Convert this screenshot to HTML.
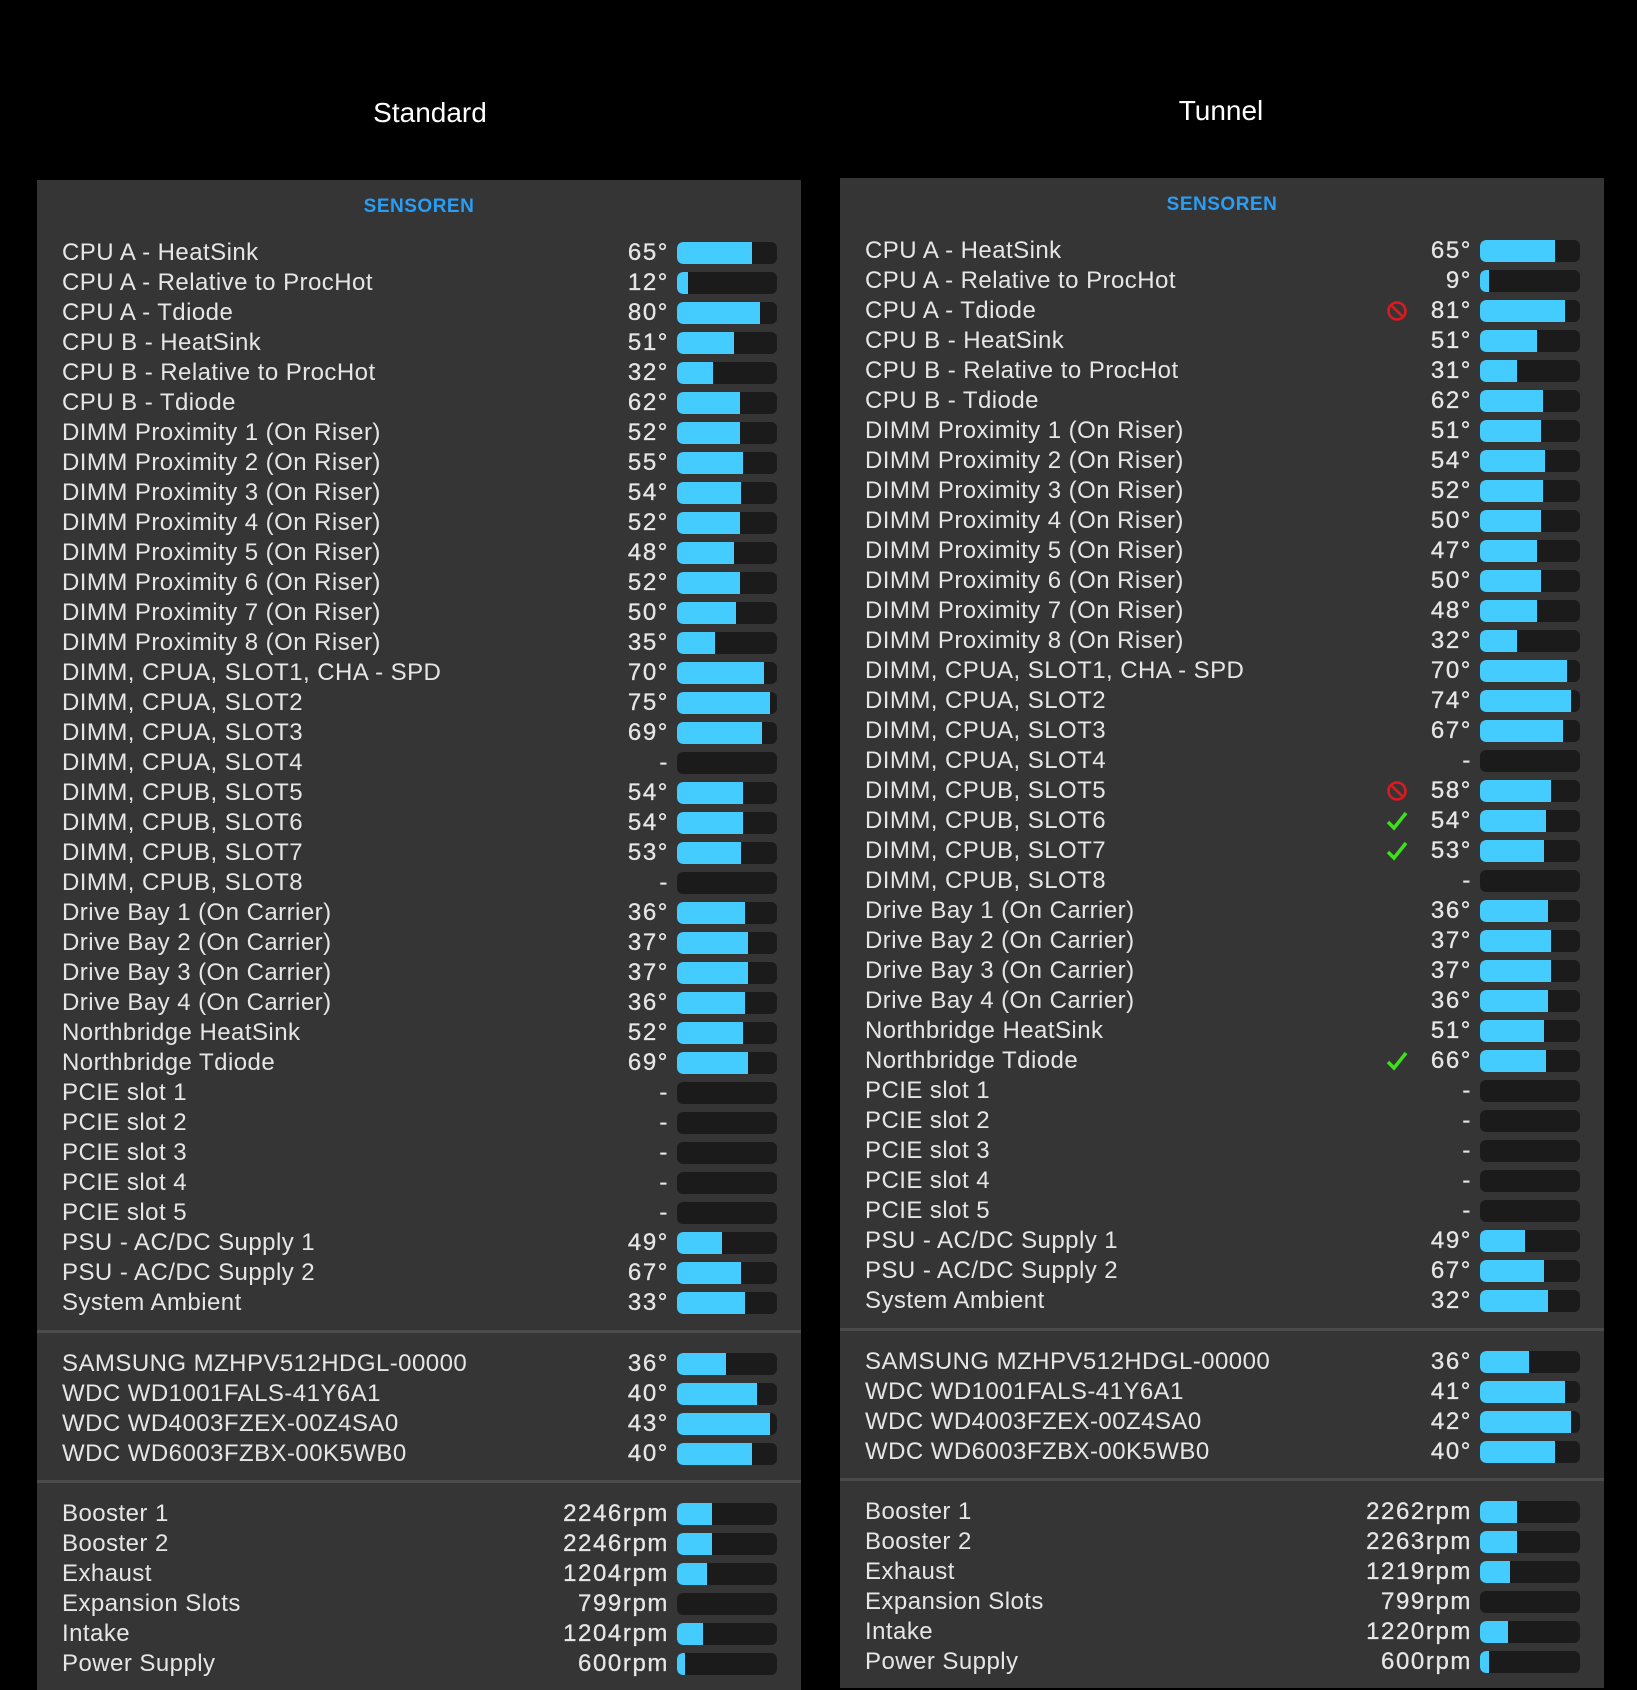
<!DOCTYPE html>
<html><head><meta charset="utf-8"><style>
body{margin:0;width:1637px;height:1690px;background:#000;position:relative;overflow:hidden;font-family:"Liberation Sans",sans-serif;}
.t{position:absolute;top:97px;color:#fff;font-size:28px;width:400px;text-align:center;}
.p{position:absolute;width:764px;height:1510px;background:#353535;}
.h{position:absolute;top:16px;left:0;width:100%;text-align:center;color:#2a9df4;font-weight:bold;font-size:19px;letter-spacing:0.5px}
.r{position:absolute;left:0;width:764px;height:30px;line-height:30px;color:#e6e6e6;font-size:24px;margin-top:2px}
.r .l{position:absolute;left:25px;white-space:nowrap;letter-spacing:0.45px}
.r .v{position:absolute;right:132px;white-space:nowrap;letter-spacing:1.6px;-webkit-text-stroke:0.3px #e6e6e6}
.r .b{position:absolute;left:640px;top:4px;width:100px;height:22px;border-radius:6px;background:#1b1b1b;overflow:hidden}
.r .b i{display:block;height:100%;background:#44ccff;border-radius:6px 0 0 6px}
.s{position:absolute;left:0;width:764px;height:3px;background:#4a4a4a}
.x{position:absolute;left:546px;top:4px;width:22px;height:22px}
</style></head><body>
<div class="t" style="left:230px">Standard</div>
<div class="t" style="left:1021px;top:95px">Tunnel</div>

<div class="p" style="left:37px;top:180px">
<div class="h">SENSOREN</div>
<div class="r" style="top:56px"><span class="l">CPU A - HeatSink</span><span class="v">65°</span><div class="b"><i style="width:75px"></i></div></div>
<div class="r" style="top:86px"><span class="l">CPU A - Relative to ProcHot</span><span class="v">12°</span><div class="b"><i style="width:11px"></i></div></div>
<div class="r" style="top:116px"><span class="l">CPU A - Tdiode</span><span class="v">80°</span><div class="b"><i style="width:83px"></i></div></div>
<div class="r" style="top:146px"><span class="l">CPU B - HeatSink</span><span class="v">51°</span><div class="b"><i style="width:57px"></i></div></div>
<div class="r" style="top:176px"><span class="l">CPU B - Relative to ProcHot</span><span class="v">32°</span><div class="b"><i style="width:36px"></i></div></div>
<div class="r" style="top:206px"><span class="l">CPU B - Tdiode</span><span class="v">62°</span><div class="b"><i style="width:63px"></i></div></div>
<div class="r" style="top:236px"><span class="l">DIMM Proximity 1 (On Riser)</span><span class="v">52°</span><div class="b"><i style="width:63px"></i></div></div>
<div class="r" style="top:266px"><span class="l">DIMM Proximity 2 (On Riser)</span><span class="v">55°</span><div class="b"><i style="width:66px"></i></div></div>
<div class="r" style="top:296px"><span class="l">DIMM Proximity 3 (On Riser)</span><span class="v">54°</span><div class="b"><i style="width:64px"></i></div></div>
<div class="r" style="top:326px"><span class="l">DIMM Proximity 4 (On Riser)</span><span class="v">52°</span><div class="b"><i style="width:63px"></i></div></div>
<div class="r" style="top:356px"><span class="l">DIMM Proximity 5 (On Riser)</span><span class="v">48°</span><div class="b"><i style="width:57px"></i></div></div>
<div class="r" style="top:386px"><span class="l">DIMM Proximity 6 (On Riser)</span><span class="v">52°</span><div class="b"><i style="width:63px"></i></div></div>
<div class="r" style="top:416px"><span class="l">DIMM Proximity 7 (On Riser)</span><span class="v">50°</span><div class="b"><i style="width:59px"></i></div></div>
<div class="r" style="top:446px"><span class="l">DIMM Proximity 8 (On Riser)</span><span class="v">35°</span><div class="b"><i style="width:38px"></i></div></div>
<div class="r" style="top:476px"><span class="l">DIMM, CPUA, SLOT1, CHA - SPD</span><span class="v">70°</span><div class="b"><i style="width:87px"></i></div></div>
<div class="r" style="top:506px"><span class="l">DIMM, CPUA, SLOT2</span><span class="v">75°</span><div class="b"><i style="width:93px"></i></div></div>
<div class="r" style="top:536px"><span class="l">DIMM, CPUA, SLOT3</span><span class="v">69°</span><div class="b"><i style="width:85px"></i></div></div>
<div class="r" style="top:566px"><span class="l">DIMM, CPUA, SLOT4</span><span class="v">-</span><div class="b"></div></div>
<div class="r" style="top:596px"><span class="l">DIMM, CPUB, SLOT5</span><span class="v">54°</span><div class="b"><i style="width:66px"></i></div></div>
<div class="r" style="top:626px"><span class="l">DIMM, CPUB, SLOT6</span><span class="v">54°</span><div class="b"><i style="width:66px"></i></div></div>
<div class="r" style="top:656px"><span class="l">DIMM, CPUB, SLOT7</span><span class="v">53°</span><div class="b"><i style="width:64px"></i></div></div>
<div class="r" style="top:686px"><span class="l">DIMM, CPUB, SLOT8</span><span class="v">-</span><div class="b"></div></div>
<div class="r" style="top:716px"><span class="l">Drive Bay 1 (On Carrier)</span><span class="v">36°</span><div class="b"><i style="width:68px"></i></div></div>
<div class="r" style="top:746px"><span class="l">Drive Bay 2 (On Carrier)</span><span class="v">37°</span><div class="b"><i style="width:71px"></i></div></div>
<div class="r" style="top:776px"><span class="l">Drive Bay 3 (On Carrier)</span><span class="v">37°</span><div class="b"><i style="width:71px"></i></div></div>
<div class="r" style="top:806px"><span class="l">Drive Bay 4 (On Carrier)</span><span class="v">36°</span><div class="b"><i style="width:68px"></i></div></div>
<div class="r" style="top:836px"><span class="l">Northbridge HeatSink</span><span class="v">52°</span><div class="b"><i style="width:66px"></i></div></div>
<div class="r" style="top:866px"><span class="l">Northbridge Tdiode</span><span class="v">69°</span><div class="b"><i style="width:71px"></i></div></div>
<div class="r" style="top:896px"><span class="l">PCIE slot 1</span><span class="v">-</span><div class="b"></div></div>
<div class="r" style="top:926px"><span class="l">PCIE slot 2</span><span class="v">-</span><div class="b"></div></div>
<div class="r" style="top:956px"><span class="l">PCIE slot 3</span><span class="v">-</span><div class="b"></div></div>
<div class="r" style="top:986px"><span class="l">PCIE slot 4</span><span class="v">-</span><div class="b"></div></div>
<div class="r" style="top:1016px"><span class="l">PCIE slot 5</span><span class="v">-</span><div class="b"></div></div>
<div class="r" style="top:1046px"><span class="l">PSU - AC/DC Supply 1</span><span class="v">49°</span><div class="b"><i style="width:45px"></i></div></div>
<div class="r" style="top:1076px"><span class="l">PSU - AC/DC Supply 2</span><span class="v">67°</span><div class="b"><i style="width:64px"></i></div></div>
<div class="r" style="top:1106px"><span class="l">System Ambient</span><span class="v">33°</span><div class="b"><i style="width:68px"></i></div></div>
<div class="s" style="top:1150px"></div>
<div class="r" style="top:1167px"><span class="l">SAMSUNG MZHPV512HDGL-00000</span><span class="v">36°</span><div class="b"><i style="width:49px"></i></div></div>
<div class="r" style="top:1197px"><span class="l">WDC WD1001FALS-41Y6A1</span><span class="v">40°</span><div class="b"><i style="width:80px"></i></div></div>
<div class="r" style="top:1227px"><span class="l">WDC WD4003FZEX-00Z4SA0</span><span class="v">43°</span><div class="b"><i style="width:93px"></i></div></div>
<div class="r" style="top:1257px"><span class="l">WDC WD6003FZBX-00K5WB0</span><span class="v">40°</span><div class="b"><i style="width:75px"></i></div></div>
<div class="s" style="top:1300px"></div>
<div class="r" style="top:1317px"><span class="l">Booster 1</span><span class="v">2246rpm</span><div class="b"><i style="width:35px"></i></div></div>
<div class="r" style="top:1347px"><span class="l">Booster 2</span><span class="v">2246rpm</span><div class="b"><i style="width:35px"></i></div></div>
<div class="r" style="top:1377px"><span class="l">Exhaust</span><span class="v">1204rpm</span><div class="b"><i style="width:30px"></i></div></div>
<div class="r" style="top:1407px"><span class="l">Expansion Slots</span><span class="v">799rpm</span><div class="b"></div></div>
<div class="r" style="top:1437px"><span class="l">Intake</span><span class="v">1204rpm</span><div class="b"><i style="width:26px"></i></div></div>
<div class="r" style="top:1467px"><span class="l">Power Supply</span><span class="v">600rpm</span><div class="b"><i style="width:8px"></i></div></div>
</div>

<div class="p" style="left:840px;top:178px">
<div class="h">SENSOREN</div>
<div class="r" style="top:56px"><span class="l">CPU A - HeatSink</span><span class="v">65°</span><div class="b"><i style="width:75px"></i></div></div>
<div class="r" style="top:86px"><span class="l">CPU A - Relative to ProcHot</span><span class="v">9°</span><div class="b"><i style="width:9px"></i></div></div>
<div class="r" style="top:116px"><span class="l">CPU A - Tdiode</span><svg class="x" viewBox="0 0 22 22"><circle cx="11" cy="11" r="8.5" fill="none" stroke="#e0191e" stroke-width="2.6"/><line x1="5" y1="5" x2="17" y2="17" stroke="#e0191e" stroke-width="2.6"/></svg><span class="v">81°</span><div class="b"><i style="width:85px"></i></div></div>
<div class="r" style="top:146px"><span class="l">CPU B - HeatSink</span><span class="v">51°</span><div class="b"><i style="width:57px"></i></div></div>
<div class="r" style="top:176px"><span class="l">CPU B - Relative to ProcHot</span><span class="v">31°</span><div class="b"><i style="width:37px"></i></div></div>
<div class="r" style="top:206px"><span class="l">CPU B - Tdiode</span><span class="v">62°</span><div class="b"><i style="width:63px"></i></div></div>
<div class="r" style="top:236px"><span class="l">DIMM Proximity 1 (On Riser)</span><span class="v">51°</span><div class="b"><i style="width:61px"></i></div></div>
<div class="r" style="top:266px"><span class="l">DIMM Proximity 2 (On Riser)</span><span class="v">54°</span><div class="b"><i style="width:65px"></i></div></div>
<div class="r" style="top:296px"><span class="l">DIMM Proximity 3 (On Riser)</span><span class="v">52°</span><div class="b"><i style="width:63px"></i></div></div>
<div class="r" style="top:326px"><span class="l">DIMM Proximity 4 (On Riser)</span><span class="v">50°</span><div class="b"><i style="width:61px"></i></div></div>
<div class="r" style="top:356px"><span class="l">DIMM Proximity 5 (On Riser)</span><span class="v">47°</span><div class="b"><i style="width:57px"></i></div></div>
<div class="r" style="top:386px"><span class="l">DIMM Proximity 6 (On Riser)</span><span class="v">50°</span><div class="b"><i style="width:61px"></i></div></div>
<div class="r" style="top:416px"><span class="l">DIMM Proximity 7 (On Riser)</span><span class="v">48°</span><div class="b"><i style="width:57px"></i></div></div>
<div class="r" style="top:446px"><span class="l">DIMM Proximity 8 (On Riser)</span><span class="v">32°</span><div class="b"><i style="width:37px"></i></div></div>
<div class="r" style="top:476px"><span class="l">DIMM, CPUA, SLOT1, CHA - SPD</span><span class="v">70°</span><div class="b"><i style="width:87px"></i></div></div>
<div class="r" style="top:506px"><span class="l">DIMM, CPUA, SLOT2</span><span class="v">74°</span><div class="b"><i style="width:91px"></i></div></div>
<div class="r" style="top:536px"><span class="l">DIMM, CPUA, SLOT3</span><span class="v">67°</span><div class="b"><i style="width:83px"></i></div></div>
<div class="r" style="top:566px"><span class="l">DIMM, CPUA, SLOT4</span><span class="v">-</span><div class="b"></div></div>
<div class="r" style="top:596px"><span class="l">DIMM, CPUB, SLOT5</span><svg class="x" viewBox="0 0 22 22"><circle cx="11" cy="11" r="8.5" fill="none" stroke="#e0191e" stroke-width="2.6"/><line x1="5" y1="5" x2="17" y2="17" stroke="#e0191e" stroke-width="2.6"/></svg><span class="v">58°</span><div class="b"><i style="width:71px"></i></div></div>
<div class="r" style="top:626px"><span class="l">DIMM, CPUB, SLOT6</span><svg class="x" viewBox="0 0 22 22"><path d="M2 12 L8 18 L20 3" fill="none" stroke="#3fe01c" stroke-width="3.5"/></svg><span class="v">54°</span><div class="b"><i style="width:66px"></i></div></div>
<div class="r" style="top:656px"><span class="l">DIMM, CPUB, SLOT7</span><svg class="x" viewBox="0 0 22 22"><path d="M2 12 L8 18 L20 3" fill="none" stroke="#3fe01c" stroke-width="3.5"/></svg><span class="v">53°</span><div class="b"><i style="width:64px"></i></div></div>
<div class="r" style="top:686px"><span class="l">DIMM, CPUB, SLOT8</span><span class="v">-</span><div class="b"></div></div>
<div class="r" style="top:716px"><span class="l">Drive Bay 1 (On Carrier)</span><span class="v">36°</span><div class="b"><i style="width:68px"></i></div></div>
<div class="r" style="top:746px"><span class="l">Drive Bay 2 (On Carrier)</span><span class="v">37°</span><div class="b"><i style="width:71px"></i></div></div>
<div class="r" style="top:776px"><span class="l">Drive Bay 3 (On Carrier)</span><span class="v">37°</span><div class="b"><i style="width:71px"></i></div></div>
<div class="r" style="top:806px"><span class="l">Drive Bay 4 (On Carrier)</span><span class="v">36°</span><div class="b"><i style="width:68px"></i></div></div>
<div class="r" style="top:836px"><span class="l">Northbridge HeatSink</span><span class="v">51°</span><div class="b"><i style="width:64px"></i></div></div>
<div class="r" style="top:866px"><span class="l">Northbridge Tdiode</span><svg class="x" viewBox="0 0 22 22"><path d="M2 12 L8 18 L20 3" fill="none" stroke="#3fe01c" stroke-width="3.5"/></svg><span class="v">66°</span><div class="b"><i style="width:66px"></i></div></div>
<div class="r" style="top:896px"><span class="l">PCIE slot 1</span><span class="v">-</span><div class="b"></div></div>
<div class="r" style="top:926px"><span class="l">PCIE slot 2</span><span class="v">-</span><div class="b"></div></div>
<div class="r" style="top:956px"><span class="l">PCIE slot 3</span><span class="v">-</span><div class="b"></div></div>
<div class="r" style="top:986px"><span class="l">PCIE slot 4</span><span class="v">-</span><div class="b"></div></div>
<div class="r" style="top:1016px"><span class="l">PCIE slot 5</span><span class="v">-</span><div class="b"></div></div>
<div class="r" style="top:1046px"><span class="l">PSU - AC/DC Supply 1</span><span class="v">49°</span><div class="b"><i style="width:45px"></i></div></div>
<div class="r" style="top:1076px"><span class="l">PSU - AC/DC Supply 2</span><span class="v">67°</span><div class="b"><i style="width:64px"></i></div></div>
<div class="r" style="top:1106px"><span class="l">System Ambient</span><span class="v">32°</span><div class="b"><i style="width:68px"></i></div></div>
<div class="s" style="top:1150px"></div>
<div class="r" style="top:1167px"><span class="l">SAMSUNG MZHPV512HDGL-00000</span><span class="v">36°</span><div class="b"><i style="width:49px"></i></div></div>
<div class="r" style="top:1197px"><span class="l">WDC WD1001FALS-41Y6A1</span><span class="v">41°</span><div class="b"><i style="width:85px"></i></div></div>
<div class="r" style="top:1227px"><span class="l">WDC WD4003FZEX-00Z4SA0</span><span class="v">42°</span><div class="b"><i style="width:91px"></i></div></div>
<div class="r" style="top:1257px"><span class="l">WDC WD6003FZBX-00K5WB0</span><span class="v">40°</span><div class="b"><i style="width:75px"></i></div></div>
<div class="s" style="top:1300px"></div>
<div class="r" style="top:1317px"><span class="l">Booster 1</span><span class="v">2262rpm</span><div class="b"><i style="width:37px"></i></div></div>
<div class="r" style="top:1347px"><span class="l">Booster 2</span><span class="v">2263rpm</span><div class="b"><i style="width:37px"></i></div></div>
<div class="r" style="top:1377px"><span class="l">Exhaust</span><span class="v">1219rpm</span><div class="b"><i style="width:30px"></i></div></div>
<div class="r" style="top:1407px"><span class="l">Expansion Slots</span><span class="v">799rpm</span><div class="b"></div></div>
<div class="r" style="top:1437px"><span class="l">Intake</span><span class="v">1220rpm</span><div class="b"><i style="width:28px"></i></div></div>
<div class="r" style="top:1467px"><span class="l">Power Supply</span><span class="v">600rpm</span><div class="b"><i style="width:9px"></i></div></div>
</div>
</body></html>
